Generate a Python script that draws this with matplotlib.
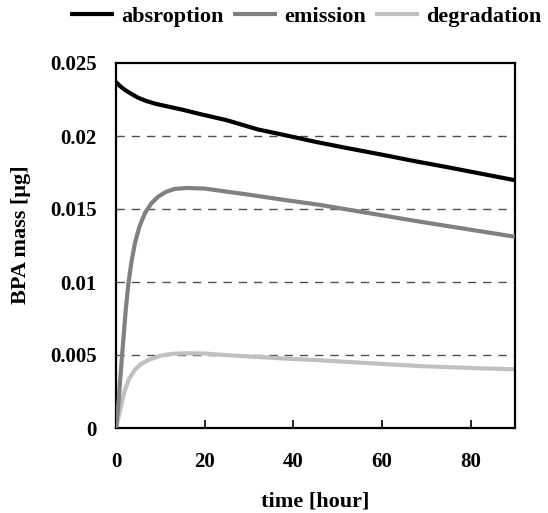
import matplotlib
matplotlib.use("Agg")
import matplotlib.pyplot as plt

# time axis [hour] and BPA mass [ug] for each process
t_absorption = [0, 0.8, 1.6, 2.4, 3.5, 5, 6.8, 9, 12, 15, 19, 25, 32, 39, 45,
                52, 60, 67, 75, 82, 90]
absorption = [0.02370, 0.02345, 0.02325, 0.02308, 0.02288, 0.02262, 0.02240,
              0.02220, 0.02200, 0.02180, 0.02150, 0.02108, 0.02045, 0.02000,
              0.01960, 0.01918, 0.01872, 0.01830, 0.01785, 0.01744, 0.01697]

t_emission = [0, 0.5, 1.3, 2.2, 2.8, 3.5, 4.3, 5.3, 6.5, 8, 9.5, 11.3, 13.3,
              16, 20, 23.5, 30, 38, 46, 57, 68.6, 80, 90]
emission = [0.0, 0.0015, 0.0047, 0.0081, 0.0099, 0.0114, 0.0127, 0.0138,
            0.0147, 0.0154, 0.01584, 0.01618, 0.01638, 0.01644, 0.01640,
            0.01625, 0.01598, 0.01562, 0.01528, 0.01472, 0.01413, 0.01358,
            0.01310]

t_degradation = [0, 0.4, 0.9, 2, 3, 4.3, 5.7, 7.3, 10, 12.6, 16, 20, 23.5,
                 30, 38, 46, 57, 68.6, 80, 90]
degradation = [0.0, 0.0005, 0.0012, 0.0026, 0.0034, 0.0040, 0.0044, 0.00466,
               0.00495, 0.00508, 0.00512, 0.00510, 0.00502, 0.00490, 0.00476,
               0.00464, 0.00444, 0.00424, 0.00411, 0.00402]

x_ticks = [0, 20, 40, 60, 80]
y_ticks = [0, 0.005, 0.01, 0.015, 0.02, 0.025]
y_tick_labels = ["0", "0.005", "0.01", "0.015", "0.02", "0.025"]

plt.rcParams['font.family'] = ['Liberation Serif', 'DejaVu Serif']
plt.rcParams['font.weight'] = 'bold'

fig = plt.figure(figsize=(5.48, 5.13), dpi=100)
ax = fig.add_axes([116 / 548, 1 - 428 / 513, 399 / 548, 365 / 513])

line_kw = dict(lw=3.0, solid_capstyle='butt', solid_joinstyle='round')
ax.plot(t_absorption, absorption, color='#000000', label='absroption',
        zorder=4, **line_kw)
ax.plot(t_emission, emission, color='#808080', label='emission',
        zorder=3, **line_kw)
ax.plot(t_degradation, degradation, color='#c0c0c0', label='degradation',
        zorder=2, **line_kw)

for yv in y_ticks[1:-1]:
    ax.axhline(yv, color='#505050', lw=1.0, ls=(0, (6, 5)), zorder=1)

ax.set_xlim(0, 90)
ax.set_ylim(0, 0.025)
ax.set_xticks(x_ticks)
ax.set_yticks(y_ticks)
ax.set_yticklabels(y_tick_labels)
ax.tick_params(axis='x', direction='in', length=6, width=1.2, pad=17, labelsize=15)
ax.tick_params(axis='y', direction='in', length=0, pad=14, labelsize=15)
for s in ax.spines.values():
    s.set_linewidth(1.6)
    s.set_color('black')

ax.set_xlabel('time [hour]', fontsize=16, fontweight='bold', labelpad=14)
ax.set_ylabel('BPA mass [μg]', fontsize=16, fontweight='bold')
ax.yaxis.set_label_coords(-0.213, 0.53)

fig.legend(loc='center', bbox_to_anchor=(0.558, 1 - 17 / 513), ncol=3,
           frameon=False, handlelength=2.0, handletextpad=0.32,
           columnspacing=0.4, prop={'weight': 'bold', 'size': 16})

fig.savefig('out.png', dpi=100)
